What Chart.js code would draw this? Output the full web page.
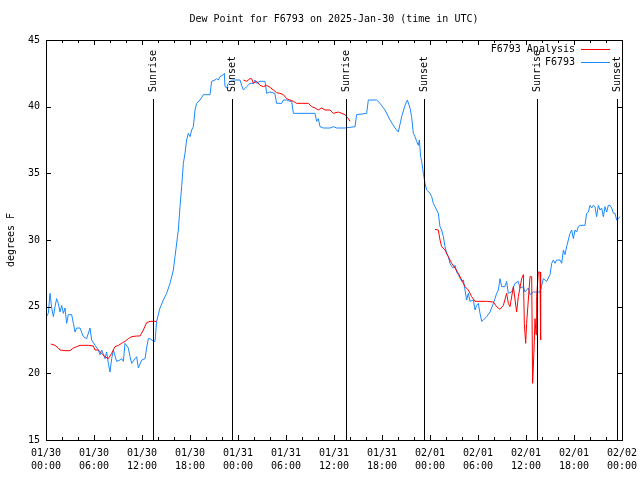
<!DOCTYPE html>
<html>
<head>
<meta charset="utf-8">
<script src="https://cdn.jsdelivr.net/npm/chart.js@4/dist/chart.umd.min.js"></script>
<style>
  html, body { margin: 0; padding: 0; background: #ffffff; }
  #wrap { width: 640px; height: 480px; }
</style>
</head>
<body>
<div id="wrap"><canvas id="c" width="640" height="480"></canvas></div>
<script>
// ---------------- DATA (hours since 2025-01-30 00:00 UTC) ----------------
const chartTitle = 'Dew Point for F6793 on 2025-Jan-30 (time in UTC)';
const yAxisTitle = 'degrees F';
const seriesNames = ['F6793 Analysis', 'F6793'];

const xTickDates = ['01/30', '01/30', '01/30', '01/30', '01/31', '01/31', '01/31', '01/31', '02/01', '02/01', '02/01', '02/01', '02/02'];
const xTickTimes = ['00:00', '06:00', '12:00', '18:00', '00:00', '06:00', '12:00', '18:00', '00:00', '06:00', '12:00', '18:00', '00:00'];

const sunHours  = [13.41, 23.29, 37.44, 47.29, 61.33, 71.33];
const sunLabels = ['Sunrise', 'Sunset', 'Sunrise', 'Sunset', 'Sunrise', 'Sunset'];

// F6793 observations
const obsHours = [
  0.1, 0.29, 0.5, 0.71, 0.92, 1.125, 1.33, 1.54, 1.75, 1.96, 2.17, 2.375, 2.58, 2.79, 3.21, 3.42, 3.625, 3.83, 4.25,
  4.67, 5.08, 5.5, 5.71, 6.125, 6.54, 6.75, 6.96, 7.375, 7.58, 7.79, 8.0, 8.21, 8.42, 8.83, 9.25, 9.46, 9.67, 9.875,
  10.29, 10.5, 10.71, 11.125, 11.33, 11.54, 11.96, 12.375, 12.58, 12.79, 13.0, 13.42, 13.625, 13.83, 14.25, 14.67,
  15.08, 15.5, 15.92, 16.125, 16.54, 16.75, 16.96, 17.17, 17.375, 17.58, 17.79, 18.0, 18.21, 18.42, 18.625, 18.83,
  19.25, 19.67, 20.5, 20.71, 21.125, 21.33, 21.54, 21.75, 22.17, 22.29, 22.375, 22.58, 22.79, 23.21, 24.25, 24.46,
  24.67, 25.08, 25.5, 25.92, 26.125, 26.33, 26.75, 27.375, 27.58, 28.0, 28.6, 28.83, 29.46, 29.67, 30.08, 30.5, 30.71,
  30.92, 33.625, 33.83, 34.04, 34.25, 34.67, 35.5, 35.92, 36.33, 37.375, 38.625, 38.83, 40.08, 40.29, 41.33, 41.75,
  42.375, 43.0, 43.625, 44.04, 44.46, 44.875, 45.17, 45.5, 45.7, 45.92, 46.125, 46.33, 46.54, 46.67, 46.83, 46.96,
  47.17, 47.375, 47.58, 48.0, 48.21, 48.42, 48.625, 48.83, 49.04, 49.25, 49.46, 49.67, 49.875, 50.08, 50.29, 50.5,
  50.71, 50.92, 51.125, 51.33, 51.54, 51.96, 52.17, 52.375, 52.58, 52.79, 53.0, 53.42, 53.625, 53.83, 54.04, 54.25,
  54.46, 54.67, 55.08, 55.5, 55.92, 56.125, 56.33, 56.54, 56.75, 56.96, 57.375, 57.58, 57.79, 58.21, 58.625, 59.04,
  59.25, 59.67, 59.875, 60.29, 60.5, 60.92, 61.33, 61.75, 62.17, 62.58, 63.0, 63.21, 63.42, 63.625, 63.83, 64.25,
  64.46, 64.67, 64.875, 65.08, 65.29, 65.5, 65.71, 65.92, 66.125, 66.33, 66.54, 66.75, 67.375, 67.58, 67.79, 68.0,
  68.21, 68.42, 68.625, 68.83, 69.04, 69.25, 69.46, 69.67, 69.875, 70.08, 70.29, 70.5, 70.71, 70.92, 71.125, 71.33,
  71.54, 71.75
];
const obsDewF = [
  24.3, 24.5, 26.0, 24.9, 24.25, 25.0, 25.6, 25.25, 24.6, 25.1, 24.5, 24.9, 23.75, 24.4, 24.4, 23.75, 23.1, 23.4, 23.4,
  22.75, 22.6, 23.4, 22.5, 22.1, 21.75, 21.4, 21.75, 21.1, 21.6, 20.75, 20.1, 21.1, 21.75, 20.9, 21.0, 21.1, 20.9, 22.25,
  21.9, 21.25, 20.75, 21.1, 21.25, 20.4, 21.0, 21.1, 21.9, 22.6, 22.6, 22.4, 22.4, 23.9, 24.9, 25.5,
  26.0, 26.75, 27.75, 28.75, 30.75, 32.5, 34.0, 35.75, 36.5, 37.5, 38.0, 37.75, 38.25, 38.5, 39.75, 40.25,
  40.5, 40.9, 40.9, 41.9, 42.0, 42.1, 42.0, 42.25, 42.4, 42.5, 41.5, 41.4, 41.75, 42.0, 42.0, 41.6,
  41.25, 41.5, 41.75, 41.75, 42.0, 41.75, 41.9, 41.9, 41.0, 41.1, 41.0, 40.25, 40.25, 40.5, 40.5, 40.4, 40.4,
  39.5, 39.5, 38.9, 39.1, 38.5, 38.4, 38.4, 38.5, 38.4, 38.4, 38.5, 39.4, 39.5, 40.5, 40.5, 40.25,
  39.75, 39.0, 38.4, 38.1, 39.25, 40.1, 40.5, 39.9, 39.25, 38.0, 37.75, 37.4, 37.1, 37.5, 36.25, 35.9,
  35.0, 34.25, 33.75, 33.5, 33.25, 32.75, 32.5, 32.25, 32.0, 31.0, 30.75, 30.25, 29.5, 29.0, 28.75, 28.25,
  28.0, 27.9, 28.1, 27.6, 27.4, 26.9, 27.0, 26.25, 25.5, 26.0, 25.4, 25.5, 24.75, 25.1, 25.25, 24.5,
  23.9, 24.0, 24.25, 24.6, 25.25, 25.6, 26.0, 26.25, 27.1, 26.5, 26.5, 26.9, 26.0, 26.1, 26.75, 26.9,
  26.4, 26.5, 26.1, 26.4, 25.9, 26.1, 26.1, 26.1, 27.1, 26.9, 27.4, 28.25, 28.5, 28.25, 28.5, 28.5,
  28.25, 29.25, 28.9, 29.5, 30.0, 30.5, 30.75, 30.1, 30.75, 30.6, 31.0, 31.1, 31.1, 32.0, 32.1, 32.6,
  32.4, 32.6, 32.5, 31.75, 32.6, 32.25, 32.4, 31.75, 32.5, 32.1, 32.6, 32.6, 32.4, 32.0, 32.0, 31.5,
  31.6, 31.75
];

// F6793 Analysis (null = gap between segments)
const anaHours = [
  0.6, 1.125, 1.54, 1.75, 2.375, 3.0, 3.42, 3.83, 4.25, 5.29, 5.92, 6.125, 6.54, 6.96, 7.375, 7.79, 8.21, 8.625, 9.04,
  9.46, 9.875, 10.29, 10.71, 11.33, 11.75, 12.17, 12.58, 13.0, 13.83,
  19.0,
  24.67, 25.08, 25.5, 25.71, 25.92, 26.33, 26.75, 27.17, 27.58, 28.0, 28.42, 28.83, 29.25, 29.67, 30.08, 30.5, 30.92,
  31.33, 32.79, 33.21, 33.625, 34.04, 34.46, 34.875, 35.5, 35.92, 36.54, 36.96, 37.375, 37.79, 38.0,
  43.0,
  48.625, 49.04, 49.25, 49.46, 49.875, 50.29, 50.71, 51.125, 51.54, 51.96, 52.375, 52.79, 53.21, 53.625, 55.08, 55.92,
  56.33, 56.75, 57.17, 57.58, 57.79, 58.0, 58.42, 58.83, 59.04, 59.46, 59.67, 59.79, 59.96, 60.08, 60.29, 60.5, 60.71,
  60.83, 61.0, 61.125, 61.25, 61.33, 61.54, 61.75, 61.83
];
const anaDewF = [
  22.2, 22.1, 21.9, 21.75, 21.7, 21.7, 21.9, 22.0, 22.1, 22.1, 22.05, 21.75, 21.75, 21.5, 21.25, 21.1, 21.5, 22.0, 22.1,
  22.25, 22.4, 22.6, 22.75, 22.8, 22.8, 23.25, 23.8, 23.9, 23.9,
  null,
  42.0, 41.9, 42.1, 42.1, 41.75, 41.9, 41.6, 41.5, 41.6, 41.45, 41.25, 41.05, 41.0, 40.9, 40.6, 40.5, 40.4,
  40.25, 40.25, 40.0, 39.9, 39.75, 39.9, 39.75, 39.75, 39.5, 39.6, 39.5, 39.4, 39.1, 38.9,
  null,
  30.8, 30.75, 30.0, 29.5, 29.25, 28.75, 28.25, 27.9, 27.5, 27.0, 26.5, 26.25, 25.75, 25.4, 25.4, 25.35,
  25.0, 24.8, 25.1, 26.0, 25.25, 25.0, 26.5, 24.6, 25.75, 27.1, 27.4, 23.75, 22.25, 23.75, 25.5, 27.25, 27.25,
  19.25, 21.75, 24.1, 22.9, 25.75, 27.6, 27.6, 22.5
];

// ---------------- STYLE ----------------
const FONT = "'DejaVu Sans Mono', 'Liberation Mono', monospace";
const RED = '#ff0000';
const BLUE = '#1a88ff';

function toPoints(xs, ys) { return xs.map((x, i) => ({ x: x, y: ys[i] })); }

const framePlugin = {
  id: 'frame',
  afterDatasetsDraw(chart) {
    const ctx = chart.ctx;
    const a = chart.chartArea;
    const xs = chart.scales.x, ys = chart.scales.y;
    ctx.save();
    ctx.strokeStyle = '#000';
    ctx.lineWidth = 1;
    // border
    ctx.strokeRect(Math.round(a.left) + 0.5, Math.round(a.top) + 0.5,
                   Math.round(a.right - a.left), Math.round(a.bottom - a.top));
    // x ticks (every 2 h, longer every 6 h), inward top and bottom
    ctx.beginPath();
    for (let h = 0; h <= 72; h += 2) {
      const px = Math.round(xs.getPixelForValue(h)) + 0.5;
      const len = (h % 6 === 0) ? 5 : 3;
      ctx.moveTo(px, a.bottom); ctx.lineTo(px, a.bottom - len);
      ctx.moveTo(px, a.top); ctx.lineTo(px, a.top + len);
    }
    // y ticks, inward left and right
    for (let v = 15; v <= 45; v += 5) {
      const py = Math.round(ys.getPixelForValue(v)) + 0.5;
      ctx.moveTo(a.left, py); ctx.lineTo(a.left + 5, py);
      ctx.moveTo(a.right, py); ctx.lineTo(a.right - 5, py);
    }
    ctx.stroke();

    // sunrise / sunset lines and labels
    ctx.font = '10px ' + FONT;
    ctx.fillStyle = '#000';
    sunHours.forEach((h, i) => {
      const px = Math.round(xs.getPixelForValue(h)) + 0.5;
      ctx.beginPath();
      ctx.moveTo(px, 99);
      ctx.lineTo(px, a.bottom);
      ctx.stroke();
      ctx.save();
      ctx.translate(px, 92);
      ctx.rotate(-Math.PI / 2);
      ctx.textAlign = 'left';
      ctx.textBaseline = 'middle';
      ctx.fillText(sunLabels[i], 0, 0);
      ctx.restore();
    });

    // legend (top right, inside plot)
    ctx.textAlign = 'right';
    ctx.textBaseline = 'middle';
    chart.data.datasets.forEach((ds, i) => {
      const y = 49 + i * 13;
      ctx.fillStyle = '#000';
      ctx.fillText(ds.label, 575, y);
      ctx.strokeStyle = ds.borderColor;
      ctx.beginPath();
      ctx.moveTo(581, y + 0.5);
      ctx.lineTo(610, y + 0.5);
      ctx.stroke();
    });

    // title
    ctx.fillStyle = '#000';
    ctx.textAlign = 'center';
    ctx.textBaseline = 'middle';
    ctx.fillText(chartTitle, (a.left + a.right) / 2, 19);

    // y axis title
    ctx.save();
    ctx.translate(11, (a.top + a.bottom) / 2);
    ctx.rotate(-Math.PI / 2);
    ctx.fillText(yAxisTitle, 0, 0);
    ctx.restore();
    ctx.restore();
  }
};

new Chart(document.getElementById('c'), {
  type: 'line',
  data: {
    datasets: [
      {
        label: seriesNames[0],
        data: toPoints(anaHours, anaDewF),
        borderColor: RED,
        borderWidth: 1,
        pointRadius: 0,
        tension: 0,
        spanGaps: false,
        fill: false
      },
      {
        label: seriesNames[1],
        data: toPoints(obsHours, obsDewF),
        borderColor: BLUE,
        borderWidth: 1,
        pointRadius: 0,
        tension: 0,
        fill: false
      }
    ]
  },
  options: {
    responsive: false,
    animation: false,
    events: [],
    layout: { padding: { top: 40, right: 18, left: 0, bottom: 0 } },
    plugins: {
      legend: { display: false },
      title: { display: false },
      tooltip: { enabled: false }
    },
    scales: {
      x: {
        type: 'linear',
        min: 0,
        max: 72,
        grid: { display: false, drawTicks: false },
        border: { display: false },
        afterFit(scale) { scale.height = 40; scale.paddingLeft = 0; scale.paddingRight = 0; },
        afterBuildTicks(scale) {
          scale.ticks = xTickDates.map((d, i) => ({ value: i * 6 }));
        },
        ticks: {
          autoSkip: false,
          maxRotation: 0,
          minRotation: 0,
          padding: 7,
          color: '#000',
          font: { family: FONT, size: 10, lineHeight: 1.3 },
          callback: (v) => {
            const i = Math.round(v / 6);
            return [xTickDates[i], xTickTimes[i]];
          }
        }
      },
      y: {
        min: 15,
        max: 45,
        grid: { display: false, drawTicks: false },
        border: { display: false },
        afterFit(scale) { scale.width = 46; scale.paddingTop = 0; scale.paddingBottom = 0; },
        ticks: {
          stepSize: 5,
          padding: 6,
          color: '#000',
          font: { family: FONT, size: 10 }
        }
      }
    }
  },
  plugins: [framePlugin]
});
</script>
</body>
</html>
